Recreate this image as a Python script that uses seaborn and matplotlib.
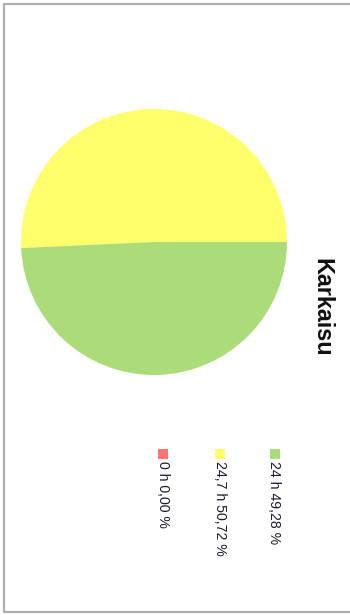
import matplotlib
matplotlib.use("Agg")
import matplotlib.pyplot as plt
from matplotlib.patches import Rectangle
import seaborn as sns

# Hardening time split
categories = ["0 h", "24,7 h", "24 h"]
shares = [0.00, 50.72, 49.28]
colors = ["#ff7373", "#ffff6b", "#acdc7a"]
title = "Karkaisu"

sns.set_theme(style="white")
plt.rcParams["font.family"] = ["Liberation Sans", "DejaVu Sans"]

W, H = 350, 615
fig = plt.figure(figsize=(W / 100, H / 100), dpi=100)
ax = fig.add_axes([0, 0, 1, 1])


def py(y):
    # pixel row (from top) -> data y
    return H - y


# Pie: yellow slice drawn first starting at 3 o'clock, counter-clockwise
order = [1, 2, 0]
ax.pie([shares[i] for i in order],
       colors=[colors[i] for i in order],
       center=(154, py(242)), radius=133,
       startangle=0, counterclock=True,
       wedgeprops=dict(linewidth=0, edgecolor="none"),
       frame=True)
ax.set_xlim(0, W)
ax.set_ylim(0, H)
ax.set_aspect("equal")
ax.axis("off")

# Title, rotated
ax.text(322, py(258), title, rotation=270, ha="center", va="top",
        fontsize=16.8, fontweight="bold", color="#111111")

# Legend: coloured squares with rotated labels
leg_x = [163, 219.5, 274.5]
for cx, cat, val, col in zip(leg_x, categories, shares, colors):
    ax.add_patch(Rectangle((cx - 5, py(459)), 10, 10, facecolor=col,
                           edgecolor="none"))
    label = f"{cat} {val:.2f} %".replace(".", ",")
    ax.text(cx, py(461), label, rotation=270, ha="center", va="top",
            fontsize=10.2, color="#1a1a2e")

# Frame lines
frame_col = "#b0b0b0"
ax.plot([4, 4], [py(3), py(613)], color=frame_col, lw=1.6, solid_capstyle="butt")
ax.plot([3, W], [py(4), py(4)], color=frame_col, lw=1.6, solid_capstyle="butt")
ax.plot([3, W], [py(612), py(612)], color=frame_col, lw=1.6, solid_capstyle="butt")

fig.savefig("out.png", dpi=100)
